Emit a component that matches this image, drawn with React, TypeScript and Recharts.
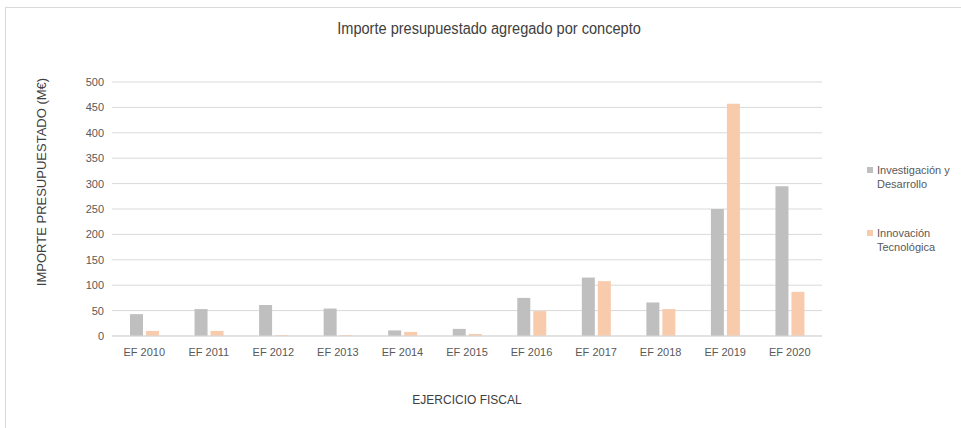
import React from "react";
import { BarChart, Bar, XAxis, YAxis, CartesianGrid, Label } from "recharts";

const categories = ["EF 2010", "EF 2011", "EF 2012", "EF 2013", "EF 2014", "EF 2015", "EF 2016", "EF 2017", "EF 2018", "EF 2019", "EF 2020"];
const investigacion = [43, 53, 61, 54, 11, 14, 75, 115, 66, 250, 295];
const innovacion = [10, 10, 2, 2, 8, 4, 49, 108, 53, 457, 87];
const yTicks = [0, 50, 100, 150, 200, 250, 300, 350, 400, 450, 500];
const seriesNames = ["Investigación y\nDesarrollo", "Innovación\nTecnológica"];
const seriesColors = ["#BFBFBF", "#F8CBAD"];

const data = categories.map((c, i) => ({ name: c, inv: investigacion[i], inn: innovacion[i] }));

const FONT = "'Liberation Sans', Arial, sans-serif";

export default function App() {
  return (
    <div style={{ position: "absolute", left: 0, top: 0, width: 961, height: 428, background: "#fff", overflow: "hidden" }}>
      <div style={{ position: "absolute", left: 5, top: 7, width: 970, height: 440, border: "1px solid #d9d9d9", boxSizing: "border-box" }} />
      <div style={{ position: "absolute", left: 0, top: 20, width: 978, textAlign: "center", fontFamily: FONT, fontSize: 16, color: "#404040", transform: "scaleX(0.91)", transformOrigin: "489px 0" }}>
        Importe presupuestado agregado por concepto
      </div>
      <div style={{ position: "absolute", left: 42, top: 182, width: 0, height: 0 }}>
        <div style={{ position: "absolute", left: -150, top: -8, width: 300, textAlign: "center", fontFamily: FONT, fontSize: 13, lineHeight: "16px", color: "#404040", transform: "rotate(-90deg)", transformOrigin: "150px 8px", whiteSpace: "nowrap" }}>
          IMPORTE PRESUPUESTADO (M€)
        </div>
      </div>
      <div style={{ position: "absolute", left: 0, top: 0 }}>
        <BarChart width={961} height={428} data={data} margin={{ top: 82, right: 139, bottom: 62, left: 0 }} barSize={13} barGap={3}>
          <CartesianGrid vertical={false} stroke="#d9d9d9" />
          <XAxis dataKey="name" height={30} tickLine={false} axisLine={{ stroke: "#d9d9d9" }} tick={{ fontFamily: FONT, fontSize: 11, fill: "#595959" }} tickMargin={6}>
            <Label value="EJERCICIO FISCAL" position="insideBottom" offset={-38} style={{ fontFamily: FONT, fontSize: 12, fill: "#404040" }} />
          </XAxis>
          <YAxis width={112} domain={[0, 500]} ticks={yTicks} tickLine={false} axisLine={false} tick={{ fontFamily: FONT, fontSize: 11, fill: "#595959" }} interval={0} />
          <Bar dataKey="inv" fill={seriesColors[0]} isAnimationActive={false} />
          <Bar dataKey="inn" fill={seriesColors[1]} isAnimationActive={false} />
        </BarChart>
      </div>
      <div style={{ position: "absolute", left: 867, top: 163, width: 94, fontFamily: FONT, fontSize: 11, color: "#595959", lineHeight: "14px" }}>
        {seriesNames.map((n, i) => (
          <div key={n} style={{ position: "relative", paddingLeft: 10, marginTop: i === 0 ? 0 : 35, whiteSpace: "pre-line" }}>
            <span style={{ position: "absolute", left: 0, top: 4, width: 6, height: 6, background: seriesColors[i] }} />
            {n}
          </div>
        ))}
      </div>
    </div>
  );
}
